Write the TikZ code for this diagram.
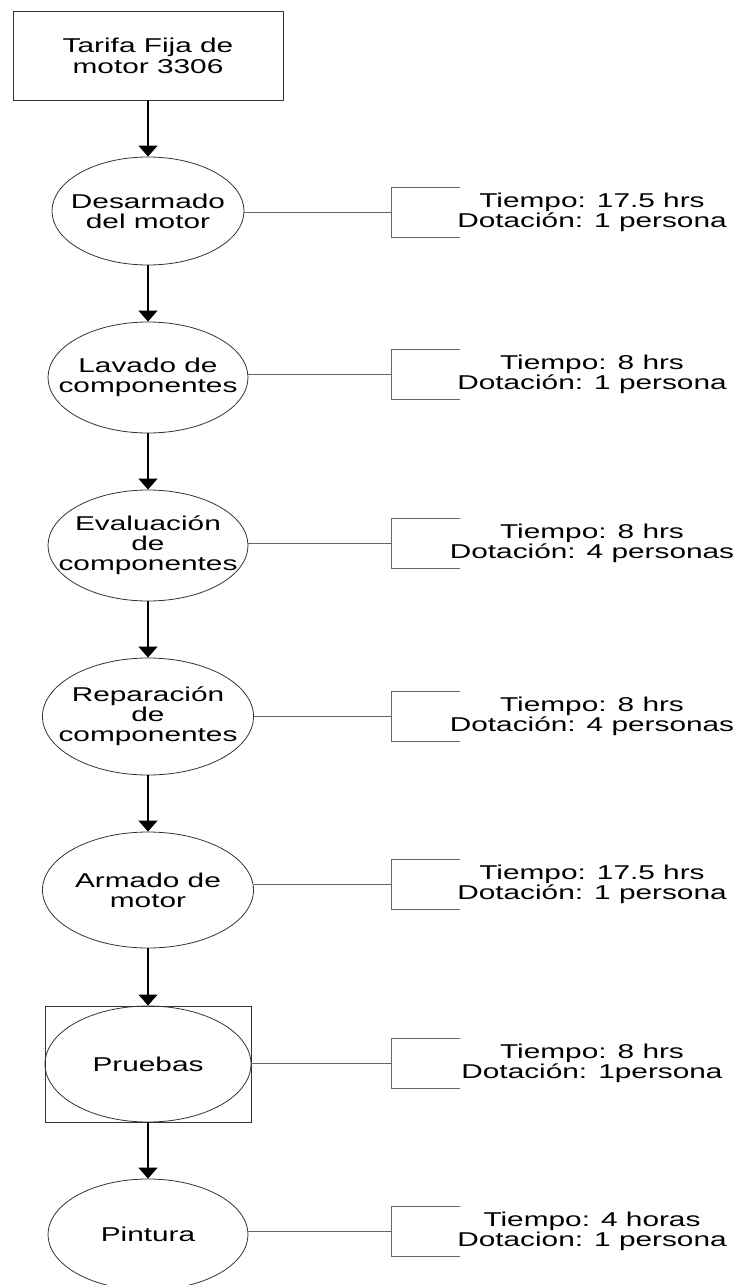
\documentclass[tikz,border=0pt]{standalone}
\usepackage{fontspec}
\setmainfont{Liberation Sans}[FakeStretch=1.49]
\usetikzlibrary{shapes.geometric,arrows.meta}
\begin{document}
\begin{tikzpicture}[x=1pt,y=-1pt,
  every node/.style={font=\fontsize{20}{20}\selectfont, align=center},
  stage/.style={ellipse, draw=black!80, line width=0.8pt, inner sep=0pt},
  startbox/.style={rectangle, draw=black!80, line width=0.9pt, inner sep=0pt},
  flow/.style={-{Triangle[width=19pt,length=11pt]}, line width=1.2pt, black},
  tie/.style={draw=black!60, line width=0.9pt},
  bracket/.pic={\draw[tie] (69,-25) -- (0,-25) -- (0,25) -- (69,25);}
]
\useasboundingbox (0,0) rectangle (744,1285);
\clip (0,0) rectangle (744,1285);

% start box
\node[startbox, minimum width=270pt, minimum height=89pt] (start) at (148,55.5)
  {Tarifa Fija de\\[1pt]motor 3306};

% process stages
\node[stage, minimum width=192pt, minimum height=108pt,
  label=center:{Desarmado\\del motor}] (e1) at (148,211) {};
\node[stage, minimum width=200pt, minimum height=111pt,
  label=center:{Lavado de\\componentes}] (e2) at (148,377.5) {};
\node[stage, minimum width=200pt, minimum height=111pt,
  label=center:{Evaluación\\de\\componentes}] (e3) at (148,545.5) {};
\node[stage, minimum width=211pt, minimum height=117pt,
  label=center:{Reparación\\de\\componentes}] (e4) at (148,716.5) {};
\node[stage, minimum width=211pt, minimum height=116pt,
  label=center:{Armado de\\motor}] (e5) at (148,890) {};
\node[startbox, minimum width=206pt, minimum height=116pt] (r6) at (148,1064) {};
\node[stage, minimum width=206pt, minimum height=116pt,
  label=center:{Pruebas}] (e6) at (148,1064) {};
\node[stage, minimum width=200pt, minimum height=111pt,
  label=center:{Pintura}] (e7) at (148,1234.5) {};

% flow arrows
\draw[flow] (start.south) -- (e1.north);
\draw[flow] (e1.south) -- (e2.north);
\draw[flow] (e2.south) -- (e3.north);
\draw[flow] (e3.south) -- (e4.north);
\draw[flow] (e4.south) -- (e5.north);
\draw[flow] (e5.south) -- (r6.north);
\draw[flow] (r6.south) -- (e7.north);

% time and staffing notes
\coordinate (b1) at (391,212);
\coordinate (b2) at (391,374);
\coordinate (b3) at (391,543);
\coordinate (b4) at (391,716);
\coordinate (b5) at (391,884);
\coordinate (b6) at (391,1063);
\coordinate (b7) at (391,1231);

\foreach \i in {1,...,7} {
  \draw[tie] (e\i.east |- b\i) -- (b\i);
  \pic at (b\i) {bracket};
}

\node (t1) at (592,212) {Tiempo: 17.5 hrs\\Dotación: 1 persona};
\node (t2) at (592,374) {Tiempo: 8 hrs\\Dotación: 1 persona};
\node (t3) at (592,543) {Tiempo: 8 hrs\\Dotación: 4 personas};
\node (t4) at (592,716) {Tiempo: 8 hrs\\Dotación: 4 personas};
\node (t5) at (592,884) {Tiempo: 17.5 hrs\\Dotación: 1 persona};
\node (t6) at (592,1063) {Tiempo: 8 hrs\\Dotación: 1persona};
\node (t7) at (592,1231) {Tiempo: 4 horas\\Dotacion: 1 persona};
\end{tikzpicture}
\end{document}
